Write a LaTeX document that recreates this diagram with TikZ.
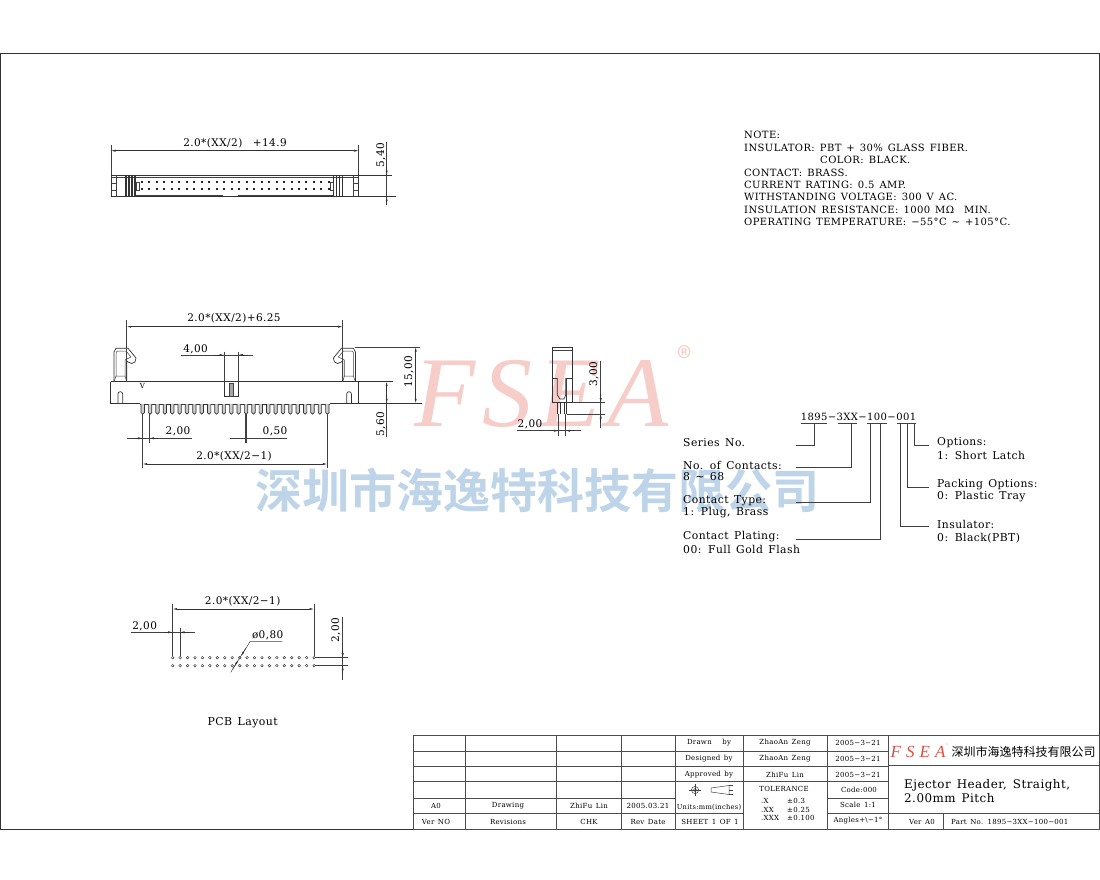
\documentclass[tikz,border=0pt]{standalone}
\usepackage{fontspec}
\setmainfont{DejaVu Serif}[LetterSpace=4,WordSpace=1.4]
\newfontfamily\cjk{Noto Sans CJK SC}[BoldFont={Noto Sans CJK SC Bold}]
\newfontfamily\logofont{Liberation Serif}[LetterSpace=30]
\newfontfamily\markfont{Liberation Serif}[LetterSpace=7]
\usetikzlibrary{arrows.meta}
\definecolor{markred}{RGB}{246,205,200}
\definecolor{markblue}{RGB}{190,212,232}
\definecolor{logored}{RGB}{215,80,70}
\tikzset{
 x=1pt,y=-1pt,
 part/.style={line width=.7pt,draw=black!80},
 thinline/.style={line width=.5pt,draw=black!75},
 dimtip/.style={line width=.5pt,draw=black!80,-{Latex[length=4.5pt,width=2pt]}},
 dimboth/.style={line width=.5pt,draw=black!80,{Latex[length=4.5pt,width=2pt]}-{Latex[length=4.5pt,width=2pt]}},
 grid/.style={line width=.8pt,draw=black!70},
 dimtext/.style={font=\fontsize{10.5}{12}\selectfont,text=black,inner sep=0pt},
 notetext/.style={font=\fontsize{10}{12}\selectfont,text=black,anchor=west,inner sep=0pt},
 keytext/.style={font=\fontsize{10.8}{12}\selectfont,text=black,anchor=west,inner sep=0pt},
 celltext/.style={font=\fontsize{7}{8}\selectfont,text=black,inner sep=0pt},
}
\begin{document}
\begin{tikzpicture}
\useasboundingbox (0,0) rectangle (1100,880);
\fill[white] (0,0) rectangle (1100,880);
% watermark
\node[text=markred,inner sep=0pt] (markfsea) at (541.5,394) {\fontsize{100}{100}\markfont\itshape FSEA};
\node[text=markred,inner sep=0pt] (markreg) at (685,358) {\fontsize{30}{30}\selectfont\cjk ®};
\node[text=markblue,inner sep=0pt] (markname) at (537,490) {\fontsize{47}{47}\cjk\bfseries 深圳市海逸特科技有限公司};
% sheet frame
\draw[line width=.8pt,black!80] (.5,53) rectangle (1099.5,829);
% top view
\begin{scope}
\draw[part] (111,175)--(392,175);
\draw[part] (111,196.7)--(396,196.7);
\draw[part] (111,175)--(111,196.7);
\draw[part] (358.7,175)--(358.7,196.7);
\draw[thinline] (111,177.3)--(358.7,177.3);
\draw[thinline] (116.7,175)--(116.7,196.7);
\draw[thinline] (353,175)--(353,196.7);
\draw[thinline] (111,183)--(116.7,183) (111,190)--(116.7,190);
\draw[thinline] (353,183)--(358.7,183) (353,190)--(358.7,190);
\foreach \x in {126,129,132,135,333.5,336.5,339.5,342.5}
 \draw[line width=1.3pt,black!80] (\x,175)--(\x,196.7);
\draw[thinline] (136.7,182) rectangle (139.7,190);
\draw[thinline] (330,182) rectangle (333,190);
\draw[thinline] (136,195)--(223.3,195) (238.3,195)--(333,195);
\foreach \i [evaluate=\i as \x using 141.7+\i*7.49] in {0,...,25} {
 \fill[black!85] (\x-1,181.3) rectangle (\x+1,183.3);
 \fill[black!85] (\x-1,188.3) rectangle (\x+1,190.3);
}
\draw[thinline] (111,145)--(111,175);
\draw[thinline] (358.7,145)--(358.7,175);
\draw[dimboth] (111,150.7)--(358.7,150.7);
\node[dimtext] (topwidth) at (235,143) {2.0*(XX/2)\ \ +14.9};
\draw[thinline] (386.7,142)--(386.7,205);
\draw[dimtip] (386.7,166)--(386.7,175);
\draw[dimtip] (386.7,205)--(386.7,196.7);
\node[dimtext,rotate=90] (topheight) at (381,155) {5,40};
\end{scope}
% front view
\begin{scope}
\draw[part] (110.7,381.7)--(393,381.7);
\draw[part] (110.7,381.7)--(110.7,403.3)--(140,403.3);
\draw[part] (330,403.3)--(421.7,403.3);
\draw[part] (358,381.7)--(358,403.3);
\draw[part] (140,404)--(330,404);
\foreach \m in {0,1} {
 \begin{scope}[shift={(\m*469.4,0)},xscale=1-2*\m]
 \draw[part] (114,381.7)--(114,352)--(116,348.3)--(128,348.3)--(136,358)--(135,362)--(131.7,363.5)--(128,362)--(126.7,360.7)--(126.7,381.7);
 \draw[thinline] (116,376)--(116,352.5)--(117.5,351)--(126,351)--(131,357)--(127,359)--(125,360)--(125,376)--cycle;
 \draw[thinline] (114,381.7)--(116,376) (125,376)--(126.7,381.7);
 \end{scope}
}
\draw[part] (224,381.7) rectangle (238.3,396.7);
\draw[thinline,fill=black!35] (229.3,383.5) rectangle (233.3,396.7);
\draw[part] (118,403.3)--(118,394) arc (180:360:2.35)--(122.7,403.3);
\draw[part] (346.7,403.3)--(346.7,394) arc (180:360:2.35)--(351.4,403.3);
\node[inner sep=0pt,font=\fontsize{7}{8}\selectfont] (frontmark) at (142.3,386) {V};
\foreach \i [evaluate=\i as \x using 142.7+\i*7.384] in {0,...,25}
 \draw[part,fill=black!20] (\x-1.7,404)--(\x-1.7,412.5) arc (180:0:1.7)--(\x+1.7,404);
\draw[thinline] (126.7,320)--(126.7,381.7);
\draw[thinline] (342.7,320)--(342.7,381.7);
\draw[dimboth] (126.7,326.7)--(342.7,326.7);
\node[dimtext] (frontwidth) at (234,318) {2.0*(XX/2)+6.25};
\draw[thinline] (224,351.7)--(224,381.7);
\draw[thinline] (238.3,351.7)--(238.3,381.7);
\draw[thinline] (180.7,355)--(253,355);
\draw[dimtip] (214,355)--(224,355);
\draw[dimtip] (248,355)--(238.3,355);
\node[dimtext] (latchgap) at (195.6,349) {4,00};
\draw[thinline] (355,347)--(420,347);
\draw[dimboth] (415.7,347)--(415.7,403.3);
\node[dimtext,rotate=90] (frontheight) at (409,371.7) {15,00};
\draw[thinline] (386.7,383)--(386.7,436.7);
\draw[dimtip] (386.7,392)--(386.7,381.7);
\draw[dimtip] (386.7,394)--(386.7,403.3);
\node[dimtext,rotate=90] (pinlength) at (381,424) {5,60};
\draw[thinline] (142.7,414)--(142.7,468);
\draw[thinline] (149.3,414)--(149.3,443);
\draw[thinline] (327.3,414)--(327.3,468);
\draw[thinline] (127.3,438.3)--(191.7,438.3);
\draw[dimtip] (134,438.3)--(142.7,438.3);
\draw[dimtip] (158,438.3)--(149.3,438.3);
\node[dimtext] (pinpitch) at (178,431) {2,00};
\draw[thinline] (245,414)--(245,443);
\draw[thinline] (246.7,414)--(246.7,443);
\draw[thinline] (230,438.3)--(287,438.3);
\node[dimtext] (pinwidth) at (275,431) {0,50};
\draw[dimboth] (142.7,464)--(327.3,464);
\node[dimtext] (pinspan) at (234,456) {2.0*(XX/2−1)};
\end{scope}
% side view
\begin{scope}
\draw[part] (552.3,347.3) rectangle (572.3,402.7);
\draw[thinline] (552.3,350.7)--(572.3,350.7);
\draw[line width=1.1pt,black!80] (552.3,378.5)--(557.3,378.5) (566.7,378.5)--(572.3,378.5);
\draw[part] (557.3,378)--(557.3,395)--(560,399)--(564,399)--(565.7,395)--(565.7,378);
\draw[thinline] (566.7,378)--(566.7,402.7);
\draw[part] (557.3,402.7)--(557.3,414);
\draw[part] (560,402.7)--(560,414);
\draw[part] (564,402.7)--(564,414);
\draw[part] (566.7,402.7)--(566.7,414);
\draw[thinline] (558.7,414)--(558.7,436);
\draw[thinline] (565.4,414)--(565.4,436);
\draw[thinline] (516.7,430.7)--(581,430.7);
\draw[dimtip] (550,430.7)--(558.7,430.7);
\draw[dimtip] (574,430.7)--(565.4,430.7);
\node[dimtext] (sidepitch) at (530,424) {2,00};
\draw[thinline] (572.3,402.7)--(605,402.7);
\draw[thinline] (566.7,414)--(605,414);
\draw[thinline] (600.7,360.7)--(600.7,428.3);
\draw[dimtip] (600.7,394)--(600.7,402.7);
\draw[dimtip] (600.7,423)--(600.7,414);
\node[dimtext,rotate=90] (sideheight) at (594,374) {3,00};
\end{scope}
% notes
\node[notetext] (note0) at (744,135) {NOTE:};
\node[notetext] (note1) at (744,147.5) {INSULATOR: PBT + 30\% GLASS FIBER.};
\node[notetext] (note2) at (820,160) {COLOR: BLACK.};
\node[notetext] (note3) at (744,172.5) {CONTACT: BRASS.};
\node[notetext] (note4) at (744,184.5) {CURRENT RATING: 0.5 AMP.};
\node[notetext] (note5) at (744,197) {WITHSTANDING VOLTAGE: 300 V AC.};
\node[notetext] (note6) at (744,209.5) {INSULATION RESISTANCE: 1000 MΩ\ \ MIN.};
\node[notetext] (note7) at (744,222) {OPERATING TEMPERATURE: −55°C \textasciitilde\ +105°C.};
% part number
\node[dimtext,font=\fontsize{10}{12}\selectfont] (partno) at (858.5,416.7) {1895−3XX−100−001};
\draw[thinline] (801,423.3)--(827.3,423.3);
\draw[thinline] (838,423.3)--(857,423.3);
\draw[thinline] (867.3,423.3)--(886.7,423.3);
\draw[thinline] (897.3,423.3)--(916,423.3);
\node[keytext] (series) at (683,443) {Series No.};
\node[keytext] (contacts) at (683,465) {No. of Contacts:};
\node[keytext] (contactsb) at (683,477) {8 \textasciitilde\ 68};
\node[keytext] (ctype) at (683,501) {Contact Type:};
\node[keytext] (ctypeb) at (683,513) {1: Plug, Brass};
\node[keytext] (plating) at (683,537) {Contact Plating:};
\node[keytext] (platingb) at (683,549.5) {00: Full Gold Flash};
\node[keytext] (options) at (937,443) {Options:};
\node[keytext] (optionsb) at (937,455) {1: Short Latch};
\node[keytext] (packing) at (937,485) {Packing Options:};
\node[keytext] (packingb) at (937,497) {0: Plastic Tray};
\node[keytext] (insul) at (937,524.5) {Insulator:};
\node[keytext] (insulb) at (937,538) {0: Black(PBT)};
\coordinate (seriesa) at (796,445);
\coordinate (seriesb) at (814.3,423.3);
\coordinate (contactsa) at (796,467.7);
\coordinate (contactsc) at (851,423.3);
\coordinate (ctypea) at (796,502.7);
\coordinate (ctypec) at (870.7,423.3);
\coordinate (platinga) at (796,539.3);
\coordinate (platingc) at (880.7,423.3);
\coordinate (insula) at (929,526);
\coordinate (insulc) at (900.7,423.3);
\coordinate (packinga) at (929,487.3);
\coordinate (packingc) at (907.3,423.3);
\coordinate (optionsa) at (929,445);
\coordinate (optionsc) at (914,423.3);
\draw[thinline] (seriesa)-|(seriesb);
\draw[thinline] (contactsa)-|(contactsc);
\draw[thinline] (ctypea)-|(ctypec);
\draw[thinline] (platinga)-|(platingc);
\draw[thinline] (insula)-|(insulc);
\draw[thinline] (packinga)-|(packingc);
\draw[thinline] (optionsa)-|(optionsc);
% pcb layout
\begin{scope}
\foreach \i [evaluate=\i as \x using 172.7+\i*7.44] in {0,...,19} {
 \draw[thinline] (\x,657.7) circle (1.3);
 \draw[thinline] (\x,665.7) circle (1.3);
}
\draw[thinline] (172.7,604)--(172.7,656.4);
\draw[thinline] (314,604)--(314,656.4);
\draw[dimboth] (172.7,609)--(314,609);
\node[dimtext] (pcbspan) at (242.7,601) {2.0*(XX/2−1)};
\draw[thinline] (180,627.7)--(180,656.4);
\draw[thinline] (130.7,632.3)--(195,632.3);
\draw[dimtip] (164,632.3)--(172.7,632.3);
\draw[dimtip] (189,632.3)--(180,632.3);
\node[dimtext] (pcbpitch) at (144.7,626) {2,00};
\draw[thinline] (282.3,641.7)--(250,641.7)--(230.7,672.3);
\draw[dimtip] (233,668.6)--(238.3,660);
\draw[dimtip] (246,648)--(241,656);
\node[dimtext] (pcbhole) at (267.7,635) {ø0,80};
\draw[thinline] (315.3,657.7)--(348,657.7);
\draw[thinline] (315.3,665.7)--(348,665.7);
\draw[thinline] (342.7,616.7)--(342.7,680);
\draw[dimtip] (342.7,649)--(342.7,657.7);
\draw[dimtip] (342.7,674)--(342.7,665.7);
\node[dimtext,rotate=90] (pcbrow) at (336,630) {2,00};
\node[dimtext,font=\fontsize{10.9}{12}\selectfont] (pcbtitle) at (242.7,722.7) {PCB Layout};
\end{scope}
% title block
\draw[grid] (413,735) rectangle (1099.5,829);
\foreach \x in {465,556.3,621.3,675.7,743.3,827.7,888.7}
 \draw[grid] (\x,735)--(\x,829);
\foreach \y in {751,766.7,781.7}
 \draw[grid] (413,\y)--(888.7,\y);
\foreach \y in {798.3,813.3} {
 \draw[grid] (413,\y)--(675.7,\y);
 \draw[grid] (827.7,\y)--(888.7,\y);
}
\draw[grid] (675.7,813.3)--(743.3,813.3);
\draw[grid] (888.7,765)--(1099.5,765);
\draw[grid] (888.7,813.3)--(1099.5,813.3);
\draw[grid] (943.3,813.3)--(943.3,829);
\node[celltext] (drawn) at (709,743) {Drawn\ \ \ by};
\node[celltext] (designed) at (709,759) {Designed by};
\node[celltext] (approved) at (709,774.5) {Approved by};
\node[celltext] (drawnname) at (785,743) {ZhaoAn Zeng};
\node[celltext] (designedname) at (785,759) {ZhaoAn Zeng};
\node[celltext] (approvedname) at (785,774.5) {ZhiFu Lin};
\node[celltext] (drawndate) at (858,743) {2005−3−21};
\node[celltext] (designeddate) at (858,759) {2005−3−21};
\node[celltext] (approveddate) at (858,774.5) {2005−3−21};
\draw[thinline] (695,790) circle (3.6);
\draw[thinline] (695,790) circle (1.6);
\draw[thinline] (689,790)--(701,790) (695,784)--(695,796);
\draw[thinline] (711,788)--(729,785.5)--(729,794.5)--(711,792)--cycle;
\draw[thinline] (729,790)--(733,790) (729,785.5)--(733,785.5) (729,794.5)--(733,794.5);
\node[celltext,font=\fontsize{6.7}{8}\selectfont] (units) at (709,807) {Units:mm(inches)};
\node[celltext] (sheet) at (710,821.7) {SHEET 1 OF 1};
\node[celltext] (ver) at (436,806) {A0};
\node[celltext] (drawing) at (508,806) {Drawing};
\node[celltext] (chkname) at (589,806) {ZhiFu Lin};
\node[celltext] (revdate) at (648,806) {2005.03.21};
\node[celltext] (verhead) at (436,822) {Ver NO};
\node[celltext] (revhead) at (508,822) {Revisions};
\node[celltext] (chkhead) at (589,822) {CHK};
\node[celltext] (datehead) at (648,822) {Rev Date};
\node[celltext] (tol) at (784,789) {TOLERANCE};
\node[celltext,anchor=west] (tola) at (761,801) {.X};
\node[celltext,anchor=west] (tolb) at (761,809.5) {.XX};
\node[celltext,anchor=west] (tolc) at (761,818) {.XXX};
\node[celltext,anchor=west] (tolav) at (787,801) {±0.3};
\node[celltext,anchor=west] (tolbv) at (787,809.5) {±0.25};
\node[celltext,anchor=west] (tolcv) at (787,818) {±0.100};
\node[celltext] (code) at (859,790) {Code:000};
\node[celltext] (scale) at (858,805) {Scale 1:1};
\node[celltext] (angles) at (858,821) {Angles+\textbackslash−1°};
\node[text=logored,inner sep=0pt] (logofsea) at (918,751.5) {\fontsize{17}{17}\logofont\itshape FSEA};
\node[text=markblue,inner sep=0pt] (logoreg) at (947,745) {\fontsize{5}{5}\cjk ®};
\node[inner sep=0pt] (logoname) at (1023.5,751.7) {\fontsize{12}{12}\cjk 深圳市海逸特科技有限公司};
\node[keytext,font=\fontsize{11.9}{12}\selectfont] (title) at (904,785) {Ejector Header, Straight,};
\node[keytext,font=\fontsize{11.9}{12}\selectfont] (titleb) at (904,798) {2.00mm\ Pitch};
\node[celltext] (vera) at (922,822) {Ver A0};
\node[celltext,anchor=west] (partfoot) at (951,822) {Part No. 1895−3XX−100−001};
\end{tikzpicture}
\end{document}
